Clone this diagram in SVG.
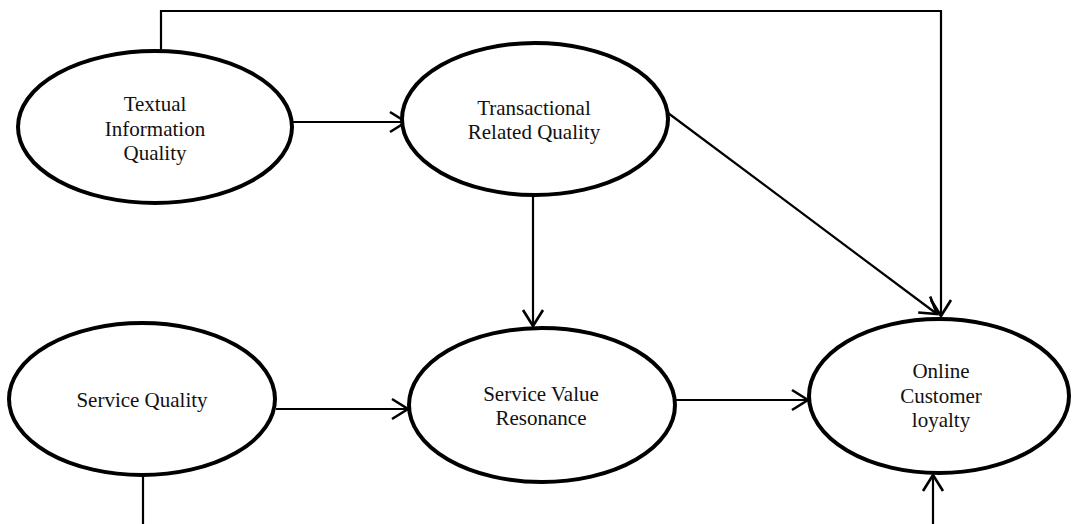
<svg xmlns="http://www.w3.org/2000/svg" width="1072" height="524" viewBox="0 0 1072 524">
<style>
.node ellipse{fill:#fff;stroke:#000;stroke-width:4}
.node text{font-family:"Liberation Serif","Times New Roman",serif;font-size:21px;fill:#111;text-anchor:middle}
.conn{fill:none;stroke:#000;stroke-width:2.2}
</style>
<defs>
<marker id="arr" markerUnits="userSpaceOnUse" markerWidth="40" markerHeight="40" refX="0" refY="0" viewBox="-20 -20 40 40" orient="auto" overflow="visible">
<path d="M-16,-10 L0,0 L-16,10" fill="none" stroke="#000" stroke-width="2.6"/>
</marker>
</defs>
<rect width="1072" height="524" fill="#fff"/>
<g id="connectors">
<path class="conn" d="M161,51 V11 H941 V316" marker-end="url(#arr)"/>
<path class="conn" d="M292,122 H406" marker-end="url(#arr)"/>
<path class="conn" d="M533,195 V326" marker-end="url(#arr)"/>
<path class="conn" d="M668,113 L937,314" marker-end="url(#arr)"/>
<path class="conn" d="M276,409 H408" marker-end="url(#arr)"/>
<path class="conn" d="M675,400 H808" marker-end="url(#arr)"/>
<path class="conn" d="M143,475 V524"/>
<path class="conn" d="M933,524 V475" marker-end="url(#arr)"/>
</g>
<g id="textual" class="node">
<ellipse cx="155" cy="127" rx="137" ry="76"/>
<text x="155" y="111">Textual</text>
<text x="155" y="136">Information</text>
<text x="155" y="160">Quality</text>
</g>
<g id="transactional" class="node">
<ellipse cx="535" cy="119" rx="133" ry="76"/>
<text x="534" y="115">Transactional</text>
<text x="534" y="139">Related Quality</text>
</g>
<g id="service-quality" class="node">
<ellipse cx="142" cy="399" rx="133" ry="76"/>
<text x="142" y="407">Service Quality</text>
</g>
<g id="service-value" class="node">
<ellipse cx="542" cy="405" rx="133" ry="77"/>
<text x="541" y="401">Service Value</text>
<text x="541" y="425">Resonance</text>
</g>
<g id="loyalty" class="node">
<ellipse cx="939" cy="396" rx="130" ry="77"/>
<text x="941" y="378">Online</text>
<text x="941" y="403">Customer</text>
<text x="941" y="427">loyalty</text>
</g>
</svg>
